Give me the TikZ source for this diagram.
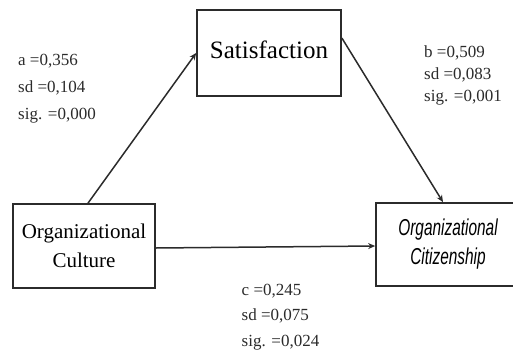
\documentclass[tikz,border=0pt]{standalone}
\usepackage{fontspec}
\setmainfont{Liberation Serif}
\newfontfamily\citfont[FakeStretch=0.67]{Liberation Sans}
\usetikzlibrary{arrows.meta}
\definecolor{linegray}{HTML}{2B2B2B}
\begin{document}
\begin{tikzpicture}[x=1pt, y=-1pt,
        V/.style={draw=linegray, line width=1.7pt, align=center, inner sep=0pt},
        arr/.style={draw=linegray, line width=1.5pt, -{Stealth[length=7pt, width=6pt]}},
        lbl/.style={anchor=base west, align=left, inner sep=0pt, text=linegray}
      ]
      \path[use as bounding box, clip] (0,0) rectangle (513,353);
      \node [V, minimum width=144pt, minimum height=86pt, text depth=7pt,
          font=\fontsize{25}{30}\selectfont] (sat) at (269,53) {Satisfaction};
      \node [V, minimum width=142pt, minimum height=84pt,
          font=\fontsize{21}{29}\selectfont] (cult) at (84,246) {Organizational\\Culture};
      \node [V, minimum width=144pt, minimum height=83pt,
          font=\citfont\itshape\fontsize{23}{29}\selectfont] (cit) at (448,244.5) {Organizational\\Citizenship};
      \draw [arr] ([xshift=4pt]cult.north) -- (sat.west);
      \draw [arr] ([yshift=15pt]sat.east) -- ([xshift=-5pt]cit.north);
      \draw [arr] ([yshift=-2pt]cult.east) -- (cult.east -| cit.west);
      \node [lbl, font=\fontsize{17}{27}\selectfont] (lbla) at (18,119)
        {a =0,356\\sd =0,104\\sig. =0,000};
      \node [lbl, font=\fontsize{17}{22}\selectfont] (lblb) at (424,101)
        {b =0,509\\sd =0,083\\sig. =0,001};
      \node [lbl, font=\fontsize{17}{25.5}\selectfont] (lblc) at (241.5,346)
        {c =0,245\\sd =0,075\\sig. =0,024};
    \end{tikzpicture}
\end{document}
